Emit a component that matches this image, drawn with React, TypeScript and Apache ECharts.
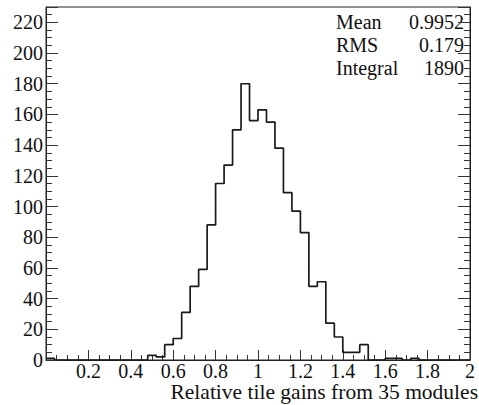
import React, { useEffect, useRef } from "react";
import * as echarts from "echarts";

const binStart = 0;
const binWidth = 0.04;
const counts = [
  1, 0, 0, 0, 0, 0, 0, 0, 0, 0,
  0, 0, 3, 2, 10, 14, 31, 48, 59, 88,
  115, 127, 150, 180, 156, 163, 155, 138, 109, 97,
  83, 48, 51, 24, 15, 5, 5, 10, 0, 0,
  1, 1, 0, 1, 0, 0, 0, 0, 0, 0,
];
const statLabels = ["Mean", "RMS", "Integral"];
const statValues = ["0.9952", "0.179", "1890"];
const xTitle = "Relative tile gains from 35 modules";

const FONT = "Liberation Serif";

export default function App() {
  const ref = useRef<HTMLDivElement>(null);
  useEffect(() => {
    if (!ref.current) return;
    const chart = echarts.init(ref.current, undefined, { renderer: "svg" });
    const pts: [number, number][] = counts.map((c, i) => [
      +(binStart + i * binWidth).toFixed(4),
      c,
    ]);
    pts.push([+(binStart + counts.length * binWidth).toFixed(4), counts[counts.length - 1]]);
    const tickColor = "#333";
    const rowY = [22, 45, 68];
    const graphics: any[] = [];
    statLabels.forEach((l, i) => {
      graphics.push({
        type: "text",
        left: 336,
        top: rowY[i] - 10,
        style: { text: l, fontFamily: FONT, fontSize: 20, fill: "#111" },
      });
      graphics.push({
        type: "text",
        right: 479 - 464,
        top: rowY[i] - 10,
        style: { text: statValues[i], fontFamily: FONT, fontSize: 20, fill: "#111", textAlign: "right" },
      });
    });
    graphics.push({
      type: "text",
      right: 1,
      top: 381,
      style: { text: xTitle, fontFamily: FONT, fontSize: 21.5, lineHeight: 20, fill: "#111", textAlign: "right" },
    });
    chart.setOption({
      animation: false,
      textStyle: { fontFamily: FONT },
      grid: {
        left: 46,
        right: 9,
        top: 7,
        bottom: 45,
        show: true,
        borderColor: "#222",
        borderWidth: 1,
        backgroundColor: "transparent",
      },
      xAxis: {
        type: "value",
        min: 0,
        max: 2,
        interval: 0.2,
        axisLine: { show: true, lineStyle: { color: "#222", width: 1 } },
        axisTick: { show: true, inside: true, length: 10, lineStyle: { color: tickColor } },
        minorTick: { show: true, splitNumber: 4, length: 5, lineStyle: { color: tickColor } },
        splitLine: { show: false },
        axisLabel: {
          margin: 3,
          fontFamily: FONT,
          fontSize: 20,
          lineHeight: 15,
          color: "#111",
          formatter: (v: number) => (v === 0 ? "" : String(Number(v.toFixed(1)))),
        },
      },
      yAxis: [
        {
          type: "value",
          min: 0,
          max: 230,
          interval: 20,
          axisLine: { show: true, lineStyle: { color: "#222", width: 1 } },
          axisTick: { show: true, inside: true, length: 12, lineStyle: { color: tickColor } },
          minorTick: { show: true, splitNumber: 4, length: 6, lineStyle: { color: tickColor } },
          splitLine: { show: false },
          axisLabel: {
            margin: 3,
            fontFamily: FONT,
            fontSize: 20,
            color: "#111",
            showMaxLabel: false,
          },
        },
        {
          type: "value",
          position: "right",
          min: 0,
          max: 230,
          interval: 20,
          axisLine: { show: true, lineStyle: { color: "#222", width: 1 } },
          axisTick: { show: true, inside: true, length: 12, lineStyle: { color: tickColor } },
          minorTick: { show: true, splitNumber: 4, length: 6, lineStyle: { color: tickColor } },
          splitLine: { show: false },
          axisLabel: { show: false },
        },
      ],
      series: [
        {
          type: "line",
          step: "end",
          data: pts,
          showSymbol: false,
          symbol: "none",
          lineStyle: { color: "#1a1a1a", width: 1.7 },
          clip: true,
          z: 5,
        },
      ],
      graphic: graphics,
    });
    return () => chart.dispose();
  }, []);
  return (
    <div
      ref={ref}
      style={{ position: "fixed", left: 0, top: 0, width: 479, height: 405, background: "#fff" }}
    />
  );
}
